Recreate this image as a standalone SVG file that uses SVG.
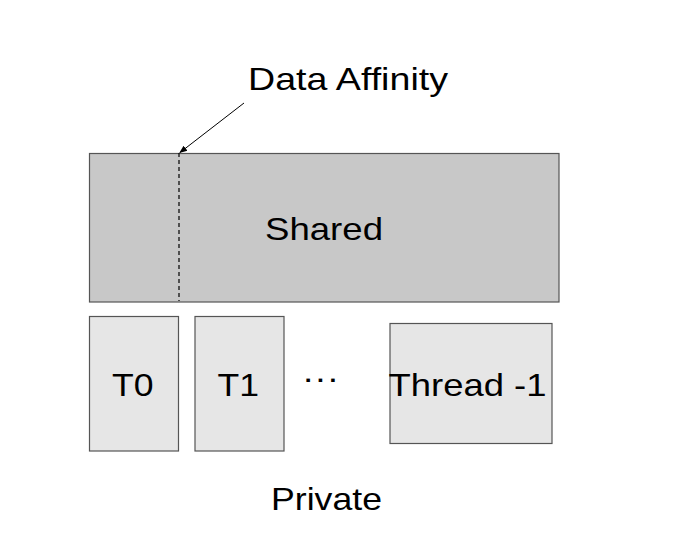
<svg xmlns="http://www.w3.org/2000/svg" width="674" height="558" viewBox="0 0 674 558">
<style>
text{font-family:"Liberation Sans",Arial,sans-serif;font-size:32px;fill:#000}
.box{stroke:#555;stroke-width:1.2}
</style>
<defs>
<marker id="ah" markerWidth="8" markerHeight="8" refX="7" refY="4" orient="auto" markerUnits="userSpaceOnUse">
<path d="M0,0.8 L8,4 L0,7.2 Z" fill="#000"/>
</marker>
</defs>
<rect width="674" height="558" fill="#fff"/>
<g id="shared">
<rect class="box" x="89.5" y="153.5" width="469.5" height="148.5" fill="#c8c8c8"/>
<text x="265" y="239.5" textLength="118" lengthAdjust="spacingAndGlyphs">Shared</text>
</g>
<g id="t0">
<rect class="box" x="89.5" y="316.5" width="89" height="134.5" fill="#e6e6e6"/>
<text x="112" y="395.5" textLength="41.5" lengthAdjust="spacingAndGlyphs">T0</text>
</g>
<g id="t1">
<rect class="box" x="195" y="316.5" width="89" height="134.5" fill="#e6e6e6"/>
<text x="217.5" y="395.5" textLength="41.5" lengthAdjust="spacingAndGlyphs">T1</text>
</g>
<g id="thread">
<rect class="box" x="390" y="323.5" width="162" height="120" fill="#e6e6e6"/>
<text x="388.5" y="395.5" textLength="158" lengthAdjust="spacingAndGlyphs">Thread -1</text>
</g>
<g id="dots">
<text x="302" y="389" textLength="37" lengthAdjust="spacingAndGlyphs">···</text>
</g>
<g id="labels">
<text x="248" y="90" textLength="200" lengthAdjust="spacingAndGlyphs">Data Affinity</text>
<text x="271" y="510" textLength="111" lengthAdjust="spacingAndGlyphs">Private</text>
</g>
<g id="connectors">
<line x1="179" y1="153" x2="179" y2="301" stroke="#000" stroke-width="1.2" stroke-dasharray="4,3"/>
<line x1="244" y1="103" x2="180" y2="152.5" stroke="#000" stroke-width="1" marker-end="url(#ah)"/>
</g>
</svg>
